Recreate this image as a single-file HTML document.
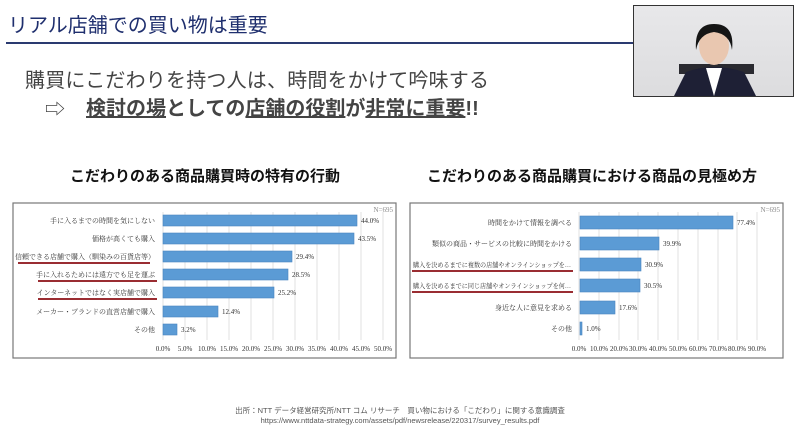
<!DOCTYPE html>
<html><head><meta charset="utf-8"><style>
body{margin:0;width:800px;height:430px;overflow:hidden;background:#fff;font-family:"Liberation Sans","Noto Sans CJK JP",sans-serif;position:relative}
.a{position:absolute;white-space:nowrap}
</style></head><body>
<div class="a" style="left:8px;top:9px;font-size:20px;color:#1f2f6e">リアル店舗での買い物は重要</div>
<div class="a" style="left:6px;top:42px;width:627px;height:1.5px;background:#2a3a70"></div>
<div class="a" style="left:633px;top:5px;width:159px;height:90px;border:1.5px solid #333;background:linear-gradient(#e8e8ea,#dcdcde)">
 <svg width="159" height="90">
  <rect x="45" y="58" width="75" height="10" fill="#2a2a30"/>
  <path d="M40 90 L52 66 Q80 56 110 66 L122 90Z" fill="#1e2035"/>
  <path d="M72 62 L80 90 L88 62Z" fill="#fff"/>
  <ellipse cx="80" cy="40" rx="15" ry="19" fill="#e9c7b0"/>
  <path d="M62 44 Q60 18 80 18 Q101 18 98 44 Q96 28 80 26 Q65 28 62 44Z" fill="#151515"/>
 </svg>
</div>
<div class="a" style="left:25px;top:64px;font-size:20px;color:#444;letter-spacing:0.2px">購買にこだわりを持つ人は、時間をかけて吟味する</div>
<div class="a" style="left:45px;top:93px;font-size:20px;color:#444">⇨</div>
<div class="a" style="left:86px;top:92px;font-size:20px;font-weight:bold;color:#444"><u>検討の場</u>としての<u>店舗の役割</u>が<u>非常に重要</u>!!</div>
<div class="a" style="left:70px;top:165px;font-size:15px;font-weight:bold;color:#111">こだわりのある商品購買時の特有の行動</div>
<div class="a" style="left:427px;top:165px;font-size:15px;font-weight:bold;color:#111">こだわりのある商品購買における商品の見極め方</div>
<svg class="a" style="left:0;top:0" width="800" height="430" font-family="Liberation Serif,Noto Serif CJK SC,serif">
 <rect x="13" y="203" width="383" height="155" fill="#fff" stroke="#777" stroke-width="1.2"/>
 <rect x="410" y="203" width="373" height="155" fill="#fff" stroke="#777" stroke-width="1.2"/>
 <g stroke="#e2e2e2" stroke-width="1">
  <line x1="163" y1="212" x2="163" y2="340"/><line x1="185" y1="212" x2="185" y2="340"/><line x1="207" y1="212" x2="207" y2="340"/><line x1="229" y1="212" x2="229" y2="340"/><line x1="251" y1="212" x2="251" y2="340"/><line x1="273" y1="212" x2="273" y2="340"/><line x1="295" y1="212" x2="295" y2="340"/><line x1="317" y1="212" x2="317" y2="340"/><line x1="339" y1="212" x2="339" y2="340"/><line x1="361" y1="212" x2="361" y2="340"/><line x1="383" y1="212" x2="383" y2="340"/>
  <line x1="579" y1="212" x2="579" y2="340"/><line x1="599" y1="212" x2="599" y2="340"/><line x1="619" y1="212" x2="619" y2="340"/><line x1="638" y1="212" x2="638" y2="340"/><line x1="658" y1="212" x2="658" y2="340"/><line x1="678" y1="212" x2="678" y2="340"/><line x1="698" y1="212" x2="698" y2="340"/><line x1="718" y1="212" x2="718" y2="340"/><line x1="737" y1="212" x2="737" y2="340"/><line x1="757" y1="212" x2="757" y2="340"/>
 </g>
 <g fill="#5b9bd5" stroke="#4a86c0" stroke-width="0.6">
  <rect x="163" y="215" width="194" height="11"/><rect x="163" y="233" width="191" height="11"/><rect x="163" y="251" width="129" height="11"/><rect x="163" y="269" width="125" height="11"/><rect x="163" y="287" width="111" height="11"/><rect x="163" y="306" width="55" height="11"/><rect x="163" y="324" width="14" height="11"/>
  <rect x="580" y="216" width="153" height="13"/><rect x="580" y="237" width="79" height="13"/><rect x="580" y="258" width="61" height="13"/><rect x="580" y="279" width="60" height="13"/><rect x="580" y="301" width="35" height="13"/><rect x="580" y="322" width="2" height="13"/>
 </g>
 <g font-size="7" fill="#333" text-anchor="end">
  <text x="155" y="223">手に入るまでの時間を気にしない</text>
  <text x="155" y="241">価格が高くても購入</text>
  <text x="155" y="259">信頼できる店舗で購入（馴染みの百貨店等）</text>
  <text x="155" y="277">手に入れるためには遠方でも足を運ぶ</text>
  <text x="155" y="295">インターネットではなく実店舗で購入</text>
  <text x="155" y="314">メーカー・ブランドの直営店舗で購入</text>
  <text x="155" y="332">その他</text>
  <text x="572" y="225">時間をかけて情報を調べる</text>
  <text x="572" y="246">類似の商品・サービスの比較に時間をかける</text>
  <text x="393" y="212" fill="#888">N=695</text>
  <text x="780" y="212" fill="#888">N=695</text>
  <text x="572" y="310">身近な人に意見を求める</text>
  <text x="572" y="331">その他</text>
 </g>
 <g font-size="6.5" fill="#333">
  <text x="413" y="267" textLength="158" lengthAdjust="spacingAndGlyphs">購入を決めるまでに複数の店舗やオンラインショップを…</text>
  <text x="413" y="288" textLength="158" lengthAdjust="spacingAndGlyphs">購入を決めるまでに同じ店舗やオンラインショップを何…</text>
 </g>
 <g font-size="7" fill="#333">
  <text x="361" y="223">44.0%</text><text x="358" y="241">43.5%</text><text x="296" y="259">29.4%</text><text x="292" y="277">28.5%</text><text x="278" y="295">25.2%</text><text x="222" y="314">12.4%</text><text x="181" y="332">3.2%</text>
  <text x="737" y="225">77.4%</text><text x="663" y="246">39.9%</text><text x="645" y="267">30.9%</text><text x="644" y="288">30.5%</text><text x="619" y="310">17.6%</text><text x="586" y="331">1.0%</text>
 </g>
 <g font-size="7" fill="#333" text-anchor="middle">
  <text x="163" y="351">0.0%</text><text x="185" y="351">5.0%</text><text x="207" y="351">10.0%</text><text x="229" y="351">15.0%</text><text x="251" y="351">20.0%</text><text x="273" y="351">25.0%</text><text x="295" y="351">30.0%</text><text x="317" y="351">35.0%</text><text x="339" y="351">40.0%</text><text x="361" y="351">45.0%</text><text x="383" y="351">50.0%</text>
  <text x="579" y="351">0.0%</text><text x="599" y="351">10.0%</text><text x="619" y="351">20.0%</text><text x="638" y="351">30.0%</text><text x="658" y="351">40.0%</text><text x="678" y="351">50.0%</text><text x="698" y="351">60.0%</text><text x="718" y="351">70.0%</text><text x="737" y="351">80.0%</text><text x="757" y="351">90.0%</text>
 </g>
 <g stroke="#8b0f14" stroke-width="1.8">
  <line x1="18" y1="263" x2="150" y2="263"/><line x1="38" y1="281" x2="157" y2="281"/><line x1="38" y1="299" x2="157" y2="299"/>
  <line x1="412" y1="271" x2="573" y2="271"/><line x1="412" y1="292" x2="573" y2="292"/>
 </g>
</svg>
<div class="a" style="left:0;width:800px;text-align:center;top:405px;font-size:7.5px;color:#555">出所：NTT データ経営研究所/NTT コム リサーチ　買い物における「こだわり」に関する意識調査<br>https://www.nttdata-strategy.com/assets/pdf/newsrelease/220317/survey_results.pdf</div>
</body></html>
